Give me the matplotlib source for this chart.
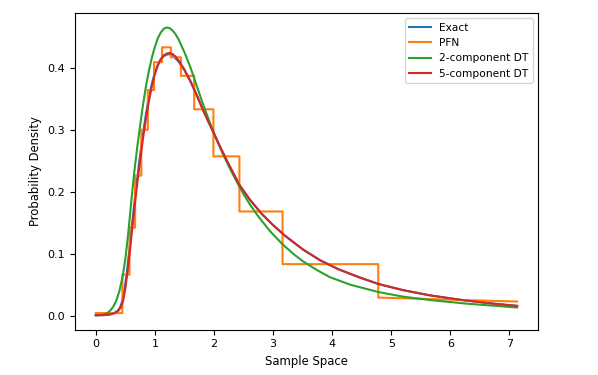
import matplotlib
matplotlib.use("Agg")
import matplotlib.pyplot as plt

# exact density (mostly hidden under the 5-component curve)
exact_x = [0, 0.15, 0.25, 0.31, 0.37, 0.41, 0.45, 0.49, 0.53, 0.57, 0.61, 0.65, 0.69, 0.74, 0.79,
           0.84, 0.89, 0.94, 0.99, 1.04, 1.09, 1.14, 1.19, 1.24, 1.29, 1.34, 1.4, 1.5, 1.6, 1.7,
           1.8, 1.9, 1.96, 2.1, 2.25, 2.43, 2.6, 2.8, 3.0, 3.2, 3.5, 3.8, 4.1, 4.45, 4.78, 5.2,
           5.66, 6.2, 6.7, 7.13]
exact_y = [0.0015, 0.0018, 0.003, 0.005, 0.0086, 0.014, 0.025, 0.046, 0.075, 0.109, 0.146, 0.181,
           0.214, 0.253, 0.289, 0.321, 0.349, 0.372, 0.39, 0.404, 0.413, 0.419, 0.422, 0.423, 0.421,
           0.417, 0.411, 0.397, 0.379, 0.358, 0.336, 0.315, 0.303, 0.274, 0.245, 0.212, 0.189,
           0.166, 0.147, 0.13, 0.108, 0.09, 0.076, 0.063, 0.052, 0.042, 0.0335, 0.026, 0.0205, 0.0166]

# 5-component DT
dt5_x = [0, 0.15, 0.25, 0.32, 0.38, 0.42, 0.46, 0.5, 0.54, 0.58, 0.62, 0.66, 0.7, 0.75, 0.8,
         0.85, 0.9, 0.95, 1.0, 1.05, 1.1, 1.15, 1.2, 1.25, 1.3, 1.35, 1.4, 1.5, 1.6, 1.7,
         1.8, 1.9, 1.96, 2.1, 2.25, 2.43, 2.6, 2.8, 3.0, 3.2, 3.5, 3.8, 4.1, 4.45, 4.78, 5.2,
         5.66, 6.2, 6.7, 7.13]
dt5_y = [0.0015, 0.0018, 0.003, 0.005, 0.0086, 0.014, 0.024, 0.045, 0.074, 0.108, 0.145, 0.18,
         0.213, 0.252, 0.288, 0.32, 0.348, 0.372, 0.391, 0.405, 0.415, 0.421, 0.424, 0.425, 0.423,
         0.419, 0.413, 0.398, 0.38, 0.359, 0.336, 0.315, 0.303, 0.274, 0.245, 0.212, 0.189,
         0.166, 0.147, 0.13, 0.108, 0.09, 0.076, 0.063, 0.052, 0.042, 0.0335, 0.026, 0.0205, 0.0166]

# 2-component DT
dt2_x = [0, 0.1, 0.18, 0.24, 0.3, 0.35, 0.4, 0.45, 0.5, 0.55, 0.6, 0.65, 0.7, 0.75, 0.8,
         0.85, 0.9, 0.95, 1.0, 1.05, 1.1, 1.15, 1.2, 1.25, 1.3, 1.35, 1.4, 1.5, 1.6, 1.7,
         1.8, 1.9, 1.96, 2.05, 2.15, 2.25, 2.385, 2.5, 2.61, 2.75, 2.95, 3.16, 3.35, 3.5, 3.75,
         3.96, 4.3, 4.78, 5.2, 5.66, 6.3, 7.13]
dt2_y = [0.0015, 0.002, 0.004, 0.0086, 0.016, 0.026, 0.041, 0.062, 0.092, 0.135, 0.185, 0.232,
         0.272, 0.308, 0.342, 0.372, 0.397, 0.418, 0.435, 0.449, 0.458, 0.464, 0.466, 0.465, 0.461,
         0.455, 0.447, 0.426, 0.402, 0.374, 0.346, 0.32, 0.305, 0.284, 0.262, 0.242, 0.217, 0.197,
         0.18, 0.161, 0.137, 0.116, 0.1, 0.089, 0.074, 0.063, 0.051, 0.039, 0.0315, 0.026, 0.02, 0.014]

# PFN piecewise density: bin edges and heights, last bin ends sloped
pfn_edges = [0, 0.45, 0.57, 0.665, 0.77, 0.88, 0.985, 1.12, 1.27, 1.44, 1.665, 1.99, 2.43, 3.16, 4.78]
pfn_heights = [0.005, 0.067, 0.143, 0.227, 0.301, 0.365, 0.41, 0.434, 0.418, 0.388, 0.334, 0.258,
               0.169, 0.084, 0.030]
pfn_end_x = 7.13
pfn_end_y = 0.0236

pfn_x, pfn_y = [], []
for i, h in enumerate(pfn_heights):
    last = i + 1 == len(pfn_edges)
    pfn_x += [pfn_edges[i], pfn_end_x if last else pfn_edges[i + 1]]
    pfn_y += [h, pfn_end_y if last else h]

plt.rcParams['font.size'] = 8

fig, ax = plt.subplots(figsize=(5.98, 3.75), dpi=100)
fig.subplots_adjust(left=0.125, right=0.9, bottom=0.121, top=0.965)

ax.plot(exact_x, exact_y, label="Exact")
ax.plot(pfn_x, pfn_y, label="PFN")
ax.plot(dt2_x, dt2_y, label="2-component DT")
ax.plot(dt5_x, dt5_y, label="5-component DT")

ax.set_xlabel("Sample Space", fontsize=8.4)
ax.set_ylabel("Probability Density", fontsize=8.4)
ax.legend(loc="upper right", fontsize=7.7)

fig.savefig("out.png", dpi=100)
